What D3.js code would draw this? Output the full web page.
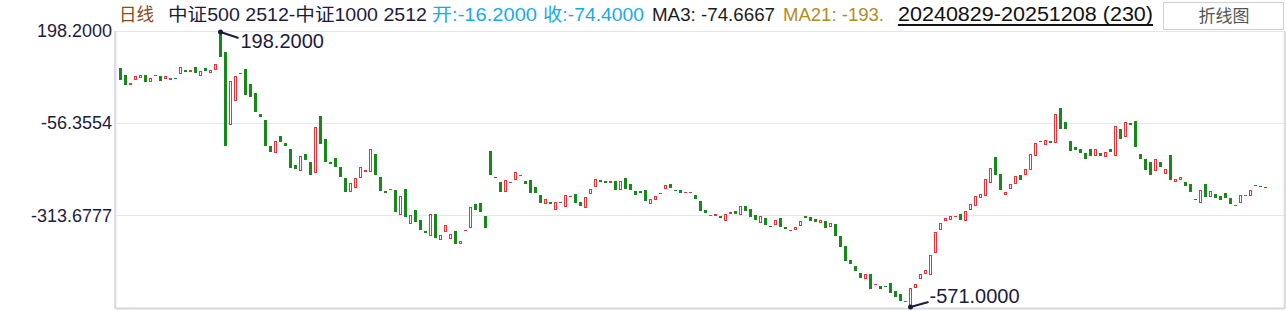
<!DOCTYPE html>
<html>
<head>
<meta charset="utf-8">
<script src="https://cdn.jsdelivr.net/npm/d3@7"></script>
<style>
  html, body { margin: 0; padding: 0; background: #fff; }
  svg { display: block; }
</style>
</head>
<body>
<svg id="viz"></svg>
<script>
// Spread candles: 中证500 2512 - 中证1000 2512, daily, 230 bars
const opens = [
  95.4, 76.0, 49.1, 63.0, 68.5, 76.0, 57.4, 75.0, 73.2, 65.7,
  63.0, 67.7, 79.6, 89.9, 85.2, 98.2, 74.1, 95.4, 82.4, 90.7,
  198.2, 139.9, -63.7, 3.0, 80.7, 92.7, 51.0, 26.0, -32.3, -48.9,
  -121.1, -139.7, -92.5, -112.8, -129.5, -173.1, -189.7, -143.4, -165.6, -195.3,
  -37.8, -101.7, -165.6, -154.5, -179.5, -210.0, -248.0, -236.9, -209.2, -192.5,
  -192.5, -143.4, -207.2, -246.1, -243.3, -243.3, -311.9, -240.5, -336.9, -298.9,
  -326.6, -357.2, -370.2, -310.0, -381.3, -359.1, -378.6, -357.2, -392.5, -356.3,
  -348.0, -282.2, -279.4, -315.5, -135.0, -207.2, -221.1, -248.0, -223.9, -214.7,
  -203.6, -218.3, -215.6, -235.0, -257.2, -281.4, -276.7, -298.0, -276.7, -289.7,
  -261.9, -254.4, -276.7, -292.5, -253.6, -234.2, -215.6, -218.3, -223.1, -218.3,
  -242.5, -210.0, -226.7, -246.1, -246.1, -243.3, -281.4, -270.3, -253.6, -239.7,
  -226.7, -243.3, -243.3, -250.8, -250.8, -257.2, -273.9, -298.0, -314.7, -314.7,
  -315.5, -328.6, -309.1, -301.7, -311.9, -287.8, -296.1, -312.8, -334.1, -321.1,
  -343.3, -339.7, -321.1, -346.1, -356.3, -353.6, -342.5, -315.5, -318.3, -323.9,
  -334.1, -329.4, -345.3, -337.7, -371.1, -398.8, -437.7, -454.4, -473.8, -489.7,
  -476.6, -506.3, -509.9, -509.9, -501.6, -523.8, -531.3, -553.5, -571.0, -514.6,
  -489.7, -475.8, -478.5, -417.4, -355.2, -330.2, -325.8, -317.5, -310.0, -328.6,
  -298.0, -286.9, -264.7, -259.2, -223.1, -151.7, -198.9, -256.4, -239.7, -225.8,
  -201.7, -200.8, -187.0, -148.1, -109.2, -117.5, -107.3, -112.0, -16.2, -54.5,
  -107.3, -123.9, -129.5, -140.6, -129.5, -148.1, -140.6, -150.9, -129.5, -148.1,
  -73.9, -95.3, -57.3, -51.7, -143.4, -157.2, -165.6, -189.7, -165.6, -198.1,
  -146.1, -220.3, -214.7, -221.1, -226.7, -267.5, -278.6, -226.7, -261.9, -254.4,
  -260.0, -251.7, -265.5, -286.9, -278.6, -259.2, -259.2, -231.4, -232.2, -235.0
];
const closes = [
  63.0, 49.1, 53.8, 73.2, 76.0, 57.4, 67.7, 76.0, 60.2, 73.2,
  67.7, 66.5, 98.2, 84.4, 89.9, 81.6, 87.1, 87.1, 89.9, 106.6,
  125.2, -122.0, 60.2, 72.4, 82.4, 21.3, 15.8, -26.7, -39.8, -120.3,
  -137.0, -108.1, -109.2, -120.3, -182.2, -184.2, -148.9, -160.0, -200.8, -68.4,
  -115.6, -164.7, -170.3, -179.5, -207.2, -248.0, -223.9, -210.0, -179.5, -187.8,
  -129.5, -200.8, -245.3, -250.8, -240.5, -303.6, -260.0, -317.5, -312.8, -331.4,
  -353.6, -361.9, -310.0, -375.8, -368.3, -340.5, -365.5, -392.5, -385.0, -353.6,
  -290.5, -298.0, -303.6, -348.0, -200.8, -210.0, -248.0, -215.6, -221.1, -193.3,
  -201.7, -225.8, -250.8, -250.8, -278.6, -268.3, -281.4, -276.7, -279.4, -257.2,
  -260.0, -278.6, -286.9, -262.8, -240.5, -212.8, -220.3, -223.1, -218.3, -242.5,
  -218.3, -239.7, -242.5, -256.4, -250.8, -273.0, -268.3, -260.0, -251.7, -229.4,
  -236.9, -245.3, -250.8, -248.9, -248.9, -267.5, -300.8, -306.4, -312.8, -310.0,
  -320.3, -310.0, -304.4, -309.1, -287.8, -300.8, -317.5, -325.8, -315.5, -339.7,
  -346.1, -326.6, -345.3, -350.8, -353.6, -346.1, -329.4, -320.3, -328.6, -331.4,
  -326.6, -348.0, -335.0, -370.2, -401.6, -439.7, -448.0, -468.3, -486.9, -476.6,
  -517.4, -504.4, -517.4, -512.7, -528.5, -539.6, -550.7, -550.7, -515.5, -504.4,
  -476.6, -465.5, -423.8, -360.0, -335.0, -321.1, -315.5, -315.5, -325.8, -301.7,
  -282.2, -260.0, -254.4, -212.8, -182.2, -200.8, -242.5, -248.9, -226.7, -204.5,
  -214.7, -185.0, -143.4, -112.8, -107.3, -104.5, -112.0, -32.3, -74.4, -74.4,
  -134.2, -131.4, -139.7, -156.4, -148.1, -129.5, -148.1, -137.8, -137.0, -65.6,
  -100.9, -54.5, -62.8, -123.1, -156.4, -187.0, -200.8, -157.2, -178.6, -185.0,
  -214.7, -212.8, -207.2, -231.4, -248.0, -270.3, -243.3, -261.9, -246.1, -264.7,
  -270.3, -264.7, -281.4, -284.1, -257.2, -257.2, -243.3, -229.4, -234.2, -236.9
];
const yTicks = [198.2, -56.3554, -313.6777];
const yDomain = [-571.0, 198.2];

const width = 1286, height = 311;
const plot = { left: 116, right: 1284, top: 31, bottom: 308 };
const upColor = "#e8333b", downColor = "#17891b";
const fmt = v => v.toFixed(4);

const data = opens.map((o, i) => ({ i, open: o, close: closes[i] }));

const svg = d3.select("#viz").attr("width", width).attr("height", height);

const x = d3.scaleBand().domain(d3.range(data.length)).range([118, 1268]);
const y = d3.scaleLinear().domain(yDomain).range([plot.bottom, plot.top]);

// frame + grid
svg.append("rect")
  .attr("x", plot.left).attr("y", plot.top + 0.5)
  .attr("width", plot.right - plot.left).attr("height", plot.bottom - plot.top)
  .attr("fill", "none").attr("stroke", "#e4e4ee").attr("stroke-width", 1);
svg.append("line")
  .attr("x1", plot.left - 1).attr("x2", plot.left - 1)
  .attr("y1", plot.top).attr("y2", plot.bottom + 1)
  .attr("stroke", "#dcdcea").attr("stroke-width", 2);
svg.append("line")
  .attr("x1", plot.right + 1).attr("x2", plot.right + 1)
  .attr("y1", plot.top).attr("y2", plot.bottom + 1)
  .attr("stroke", "#dcdcea").attr("stroke-width", 2);
svg.append("line")
  .attr("x1", plot.left).attr("x2", plot.right)
  .attr("y1", plot.bottom + 0.5).attr("y2", plot.bottom + 0.5)
  .attr("stroke", "#d6d6e6").attr("stroke-width", 2);

svg.append("g").selectAll("line")
  .data(yTicks.slice(1))
  .enter().append("line")
  .attr("x1", plot.left).attr("x2", plot.right)
  .attr("y1", d => Math.round(y(d)) + 0.5).attr("y2", d => Math.round(y(d)) + 0.5)
  .attr("stroke", "#e6e6f0");

// y axis labels
const yAxis = svg.append("g")
  .attr("transform", `translate(${plot.left}, 0)`)
  .call(d3.axisLeft(y).tickValues(yTicks).tickFormat(fmt).tickSize(0).tickPadding(4));
yAxis.select(".domain").remove();
yAxis.selectAll("text")
  .style("font-family", "Liberation Sans, Arial, sans-serif")
  .style("font-size", "18px")
  .attr("fill", "#1c1c3c");

// candles
const g = svg.append("g").attr("shape-rendering", "crispEdges");
g.selectAll("rect")
  .data(data)
  .enter().append("rect")
  .each(function(d) {
    const up = d.close >= d.open;
    const top = y(Math.max(d.open, d.close));
    const bot = y(Math.min(d.open, d.close));
    const h = bot - top;
    const left = x(d.i) + x.bandwidth() / 2 - 1.5;
    const r = d3.select(this);
    if (!up || h < 2) {
      r.attr("x", left).attr("y", top).attr("width", 3).attr("height", Math.max(1, h))
        .attr("fill", up ? upColor : downColor);
    } else {
      r.attr("x", left + 0.5).attr("y", top + 0.5).attr("width", 2).attr("height", h - 1)
        .attr("fill", "#fff").attr("stroke", upColor).attr("stroke-width", 1);
    }
  });

// max / min markers
const maxD = data.reduce((a, b) => (Math.max(b.open, b.close) > Math.max(a.open, a.close) ? b : a));
const minD = data.reduce((a, b) => (Math.min(b.open, b.close) < Math.min(a.open, a.close) ? b : a));
const markColor = "#1c1c3c";

function marker(d, val, dx, dy, tx, ty) {
  const cx = x(d.i) + x.bandwidth() / 2, cy = y(val);
  svg.append("circle").attr("cx", cx).attr("cy", cy + (dy > 0 ? 1 : -1)).attr("r", 2.5).attr("fill", markColor);
  svg.append("line")
    .attr("x1", cx).attr("y1", cy + (dy > 0 ? 1 : -1))
    .attr("x2", cx + dx).attr("y2", cy + dy)
    .attr("stroke", markColor).attr("stroke-width", 2);
  svg.append("text")
    .attr("x", cx + tx).attr("y", cy + ty)
    .attr("font-family", "Liberation Sans, Arial, sans-serif")
    .attr("font-size", "20px")
    .attr("fill", markColor)
    .text(fmt(val));
}
marker(maxD, Math.max(maxD.open, maxD.close), 18, 7, 20, 17);
marker(minD, Math.min(minD.open, minD.close), 18, -6, 19, -5);

// header pieces: [text, x, width, colour]
const headerParts = [
  ["日线", 119, 35, "#8b4a1c"],
  ["中证500 2512-中证1000 2512", 168, 259, "#1c1c3c"],
  ["开:-16.2000", 432, 105, "#1aa8ec"],
  ["收:-74.4000", 543, 101, "#1aa8ec"],
  ["MA3: -74.6667", 652, 123, "#1c1c1c"],
  ["MA21: -193.", 783, 101, "#b08d1e"]
];
svg.append("g").selectAll("text")
  .data(headerParts)
  .enter().append("text")
  .attr("x", d => d[1]).attr("y", 21)
  .attr("textLength", d => d[2]).attr("lengthAdjust", "spacingAndGlyphs")
  .attr("font-family", "Liberation Sans, Arial, 'Noto Sans CJK SC', sans-serif")
  .attr("font-size", "18px")
  .attr("fill", d => d[3])
  .text(d => d[0]);

svg.append("text")
  .attr("x", 898).attr("y", 21)
  .attr("textLength", 255).attr("lengthAdjust", "spacingAndGlyphs")
  .attr("font-family", "Liberation Sans, Arial, sans-serif")
  .attr("font-size", "20px")
  .attr("fill", "#111")
  .text("20240829-20251208 (230)");
svg.append("line")
  .attr("x1", 898).attr("x2", 1153).attr("y1", 25).attr("y2", 25)
  .attr("stroke", "#111").attr("stroke-width", 2);

// line-chart toggle button
svg.append("rect")
  .attr("x", 1163.5).attr("y", 2.5).attr("width", 120).attr("height", 27)
  .attr("fill", "#fff").attr("stroke", "#d0d0dc").attr("stroke-width", 1);
svg.append("text")
  .attr("x", 1224).attr("y", 22)
  .attr("text-anchor", "middle")
  .attr("font-family", "'Noto Sans CJK SC', sans-serif")
  .attr("font-size", "17px")
  .attr("fill", "#555")
  .text("折线图");
</script>
</body>
</html>
